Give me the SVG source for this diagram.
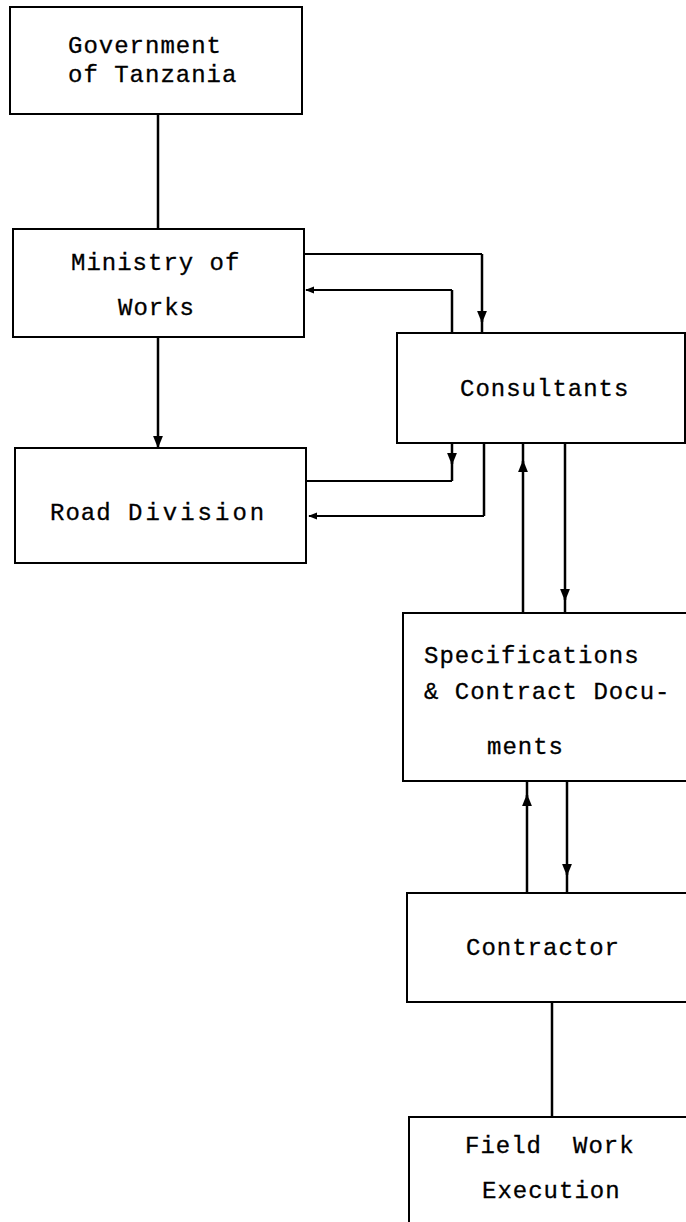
<svg xmlns="http://www.w3.org/2000/svg" width="686" height="1222" viewBox="0 0 686 1222">
<defs>
<style>
.box{fill:#fff;stroke:#000;stroke-width:2}
.lbl{font-family:"Liberation Mono","DejaVu Sans Mono",monospace;font-size:24px;letter-spacing:1px;fill:#000;stroke:#000;stroke-width:0.3}
.wide{letter-spacing:3px}
.c{fill:none;stroke:#000;stroke-width:2.5}
.h{fill:none;stroke:#000;stroke-width:1.8}
</style>
<marker id="ah" viewBox="0 0 10 10" refX="9" refY="5" markerWidth="5" markerHeight="5" markerUnits="strokeWidth" orient="auto">
<path d="M0,1 L10,5 L0,9 Z" fill="#000"/>
</marker>
</defs>
<rect width="686" height="1222" fill="#fff"/>
<g id="connectors">
<path class="c" d="M158,114 V229"/>
<path class="c" d="M158,337 V447" marker-end="url(#ah)"/>
<path class="h" d="M304,254 H482"/>
<path class="c" d="M482,254 V322" marker-end="url(#ah)"/>
<path class="c" d="M482,320 V333"/>
<path class="c" d="M452,333 V290"/>
<path class="h" d="M452,290 H306" marker-end="url(#ah)"/>
<path class="c" d="M452,443 V464" marker-end="url(#ah)"/>
<path class="c" d="M452,462 V481"/>
<path class="h" d="M452,481 H307"/>
<path class="c" d="M484,443 V516"/>
<path class="h" d="M484,516 H309" marker-end="url(#ah)"/>
<path class="c" d="M523,613 V461" marker-end="url(#ah)"/>
<path class="c" d="M523,463 V443"/>
<path class="c" d="M565,443 V600" marker-end="url(#ah)"/>
<path class="c" d="M565,598 V613"/>
<path class="c" d="M527,893 V795" marker-end="url(#ah)"/>
<path class="c" d="M527,797 V781"/>
<path class="c" d="M567,781 V875" marker-end="url(#ah)"/>
<path class="c" d="M567,873 V893"/>
<path class="c" d="M552,1002 V1117"/>
</g>
<g id="government">
<rect class="box" x="10" y="7" width="292" height="107"/>
<text class="lbl" x="68" y="53">Government</text>
<text class="lbl" x="68" y="82">of Tanzania</text>
</g>
<g id="ministry">
<rect class="box" x="13" y="229" width="291" height="108"/>
<text class="lbl" x="71" y="270">Ministry of</text>
<text class="lbl" x="118" y="315">Works</text>
</g>
<g id="road-division">
<rect class="box" x="15" y="448" width="291" height="115"/>
<text class="lbl" y="520"><tspan x="50">Road</tspan> <tspan class="wide" x="128">Division</tspan></text>
</g>
<g id="consultants">
<rect class="box" x="397" y="333" width="288" height="110"/>
<text class="lbl" x="460" y="396">Consultants</text>
</g>
<g id="specifications">
<rect class="box" x="403" y="613" width="300" height="168"/>
<text class="lbl" x="424" y="663">Specifications</text>
<text class="lbl" x="424" y="699">&amp; Contract Docu-</text>
<text class="lbl" x="487" y="754">ments</text>
</g>
<g id="contractor">
<rect class="box" x="407" y="893" width="300" height="109"/>
<text class="lbl" x="466" y="955">Contractor</text>
</g>
<g id="field-work">
<rect class="box" x="409" y="1117" width="300" height="130"/>
<text class="lbl" y="1153"><tspan x="465">Field</tspan> <tspan x="573">Work</tspan></text>
<text class="lbl" x="482" y="1198">Execution</text>
</g>
</svg>
